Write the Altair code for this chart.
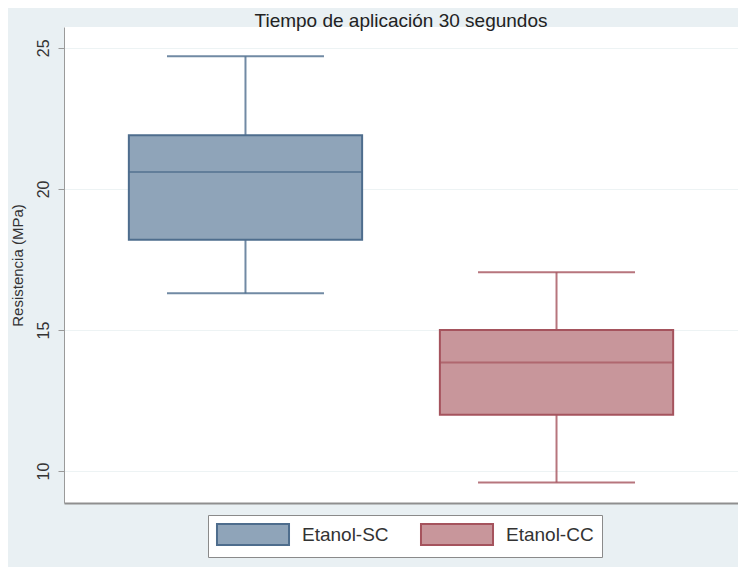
import altair as alt
import pandas as pd

groups = ["Etanol-SC", "Etanol-CC"]
lower = [16.3, 9.6]
q1 = [18.2, 12.0]
median = [20.6, 13.85]
q3 = [21.9, 15.0]
upper = [24.7, 17.05]

fills = ["#8fa4b9", "#c8969b"]
strokes = ["#4e6d8d", "#a5535d"]

df = pd.DataFrame({
    "group": groups, "lower": lower, "q1": q1,
    "median": median, "q3": q3, "upper": upper,
})

FONT = "Liberation Sans"

x = alt.X("group:N", sort=groups,
          scale=alt.Scale(paddingInner=0, paddingOuter=0.0835),
          axis=alt.Axis(title=None, labels=False, ticks=False, domain=True,
                        domainColor="#8f8f8f", domainWidth=2, grid=False))
yscale = alt.Scale(domain=[8.87, 25.74], nice=False, zero=False)
yaxis = alt.Axis(title="Resistencia (MPa)", values=[10, 15, 20, 25],
                 labelAngle=270, labelAlign="center", labelBaseline="bottom",
                 labelPadding=7, labelFontSize=16, labelColor="#333333",
                 labelFont=FONT, tickSize=6, tickColor="#9a9a9a",
                 domainColor="#9a9a9a", grid=True, gridColor="#edf3f4",
                 titleFont=FONT, titleFontSize=15, titleFontWeight="normal",
                 titleColor="#333333", titlePadding=10)

fill_scale = alt.Scale(domain=groups, range=fills)
stroke_scale = alt.Scale(domain=groups, range=strokes)
legend = alt.Legend(title=None, orient="none", legendX=144, legendY=488,
                    direction="horizontal",
                    symbolType="M-3.43,-1 L3.43,-1 L3.43,1 L-3.43,1 Z",
                    symbolSize=441, symbolStrokeWidth=2, symbolOpacity=1,
                    symbolOffset=25.5,
                    labelFont=FONT, labelFontSize=19, labelColor="#333333",
                    labelOffset=37.5, columnPadding=27, padding=8,
                    fillColor="white", strokeColor="#8a8a8a")

base = alt.Chart(df)

whisk = base.mark_rule(strokeWidth=2, opacity=0.8).encode(
    x=x,
    y=alt.Y("lower:Q", scale=yscale, axis=yaxis),
    y2="upper:Q",
    stroke=alt.Stroke("group:N", scale=stroke_scale, legend=None),
)
caps_lo = base.mark_tick(size=157, thickness=2, opacity=0.8).encode(
    x=x, y=alt.Y("lower:Q", scale=yscale),
    color=alt.Color("group:N", scale=stroke_scale, legend=None),
)
caps_hi = base.mark_tick(size=157, thickness=2, opacity=0.8).encode(
    x=x, y=alt.Y("upper:Q", scale=yscale),
    color=alt.Color("group:N", scale=stroke_scale, legend=None),
)
box = base.mark_bar(width=alt.RelativeBandSize(0.75), strokeWidth=2,
                    opacity=1).encode(
    x=x,
    y=alt.Y("q1:Q", scale=yscale),
    y2="q3:Q",
    fill=alt.Fill("group:N", scale=fill_scale, legend=legend),
    stroke=alt.Stroke("group:N", scale=stroke_scale, legend=legend),
)
med = base.mark_tick(size=234, thickness=2).encode(
    x=x, y=alt.Y("median:Q", scale=yscale),
    color=alt.Color("group:N", scale=stroke_scale, legend=None),
)

chart = alt.layer(whisk, caps_lo, caps_hi, box, med).resolve_scale(
    color="independent", stroke="independent", fill="independent"
).properties(
    width=674, height=476,
    padding={"left": 56, "top": 19, "right": 0, "bottom": 64},
    autosize=alt.AutoSizeParams(type="none"),
    background="#e9f0f3",
    title=alt.TitleParams("Tiempo de aplicación 30 segundos", font=FONT,
                          fontSize=19, fontWeight="normal", color="#222222",
                          anchor="middle", offset=-4),
).configure_view(fill="white", strokeWidth=0)

chart.save("out.html", embed_options={"renderer": "svg", "actions": False})
